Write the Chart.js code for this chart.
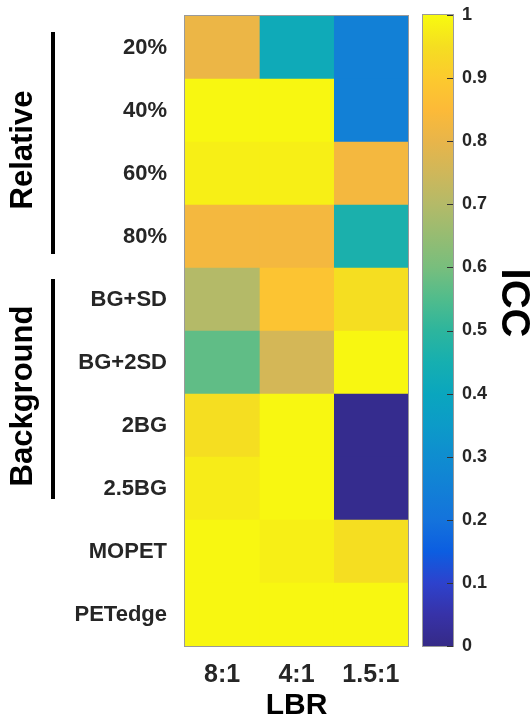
<!DOCTYPE html>
<html lang="en">
<head>
  <meta charset="UTF-8">
  <title>ICC heatmap</title>
  <style>
    body {
      margin: 0;
      padding: 0;
      background-color: #fff;
      font-family: "Liberation Sans", Arial, sans-serif;
    }

    #mapa {
      position: absolute;
      left: 0;
      top: 0;
    }

    #barra {
      position: absolute;
      left: 400px;
      top: 0;
    }
  </style>
  <script src="https://cdn.jsdelivr.net/npm/chart.js"></script>
</head>
<body>

  <canvas id="mapa" width="531" height="722"></canvas>
  <canvas id="barra" width="131" height="722"></canvas>

  <script>
    // rows (top to bottom) and columns of the heatmap
    const rowLabels = ['20%', '40%', '60%', '80%', 'BG+SD', 'BG+2SD', '2BG', '2.5BG', 'MOPET', 'PETedge'];
    const colLabels = ['8:1', '4:1', '1.5:1'];

    // ICC per column, same order as rowLabels
    const icc8to1   = [0.81, 0.995, 0.98, 0.83, 0.70, 0.57, 0.95, 0.975, 0.995, 0.995];
    const icc4to1   = [0.42, 0.995, 0.98, 0.83, 0.88, 0.76, 0.995, 0.995, 0.98, 0.995];
    const icc15to1  = [0.25, 0.25, 0.83, 0.46, 0.95, 0.995, 0.01, 0.01, 0.95, 0.995];

    // colour bar ticks
    const cbTickValues = [0, 0.1, 0.2, 0.3, 0.4, 0.5, 0.6, 0.7, 0.8, 0.9, 1];
    const cbTickLabels = ['0', '0.1', '0.2', '0.3', '0.4', '0.5', '0.6', '0.7', '0.8', '0.9', '1'];

    // row groups on the left
    const groupNames = ['Relative', 'Background'];
    const groupRows = [[0, 3], [4, 7]];

    // parula-like colormap
    const parula = [
      [0.00, [53, 42, 135]],
      [0.05, [55, 50, 168]],
      [0.10, [45, 66, 205]],
      [0.15, [12, 94, 225]],
      [0.20, [20, 115, 220]],
      [0.25, [18, 128, 214]],
      [0.30, [15, 141, 208]],
      [0.35, [12, 155, 200]],
      [0.40, [10, 166, 190]],
      [0.45, [22, 175, 176]],
      [0.50, [45, 181, 157]],
      [0.55, [80, 188, 140]],
      [0.60, [120, 190, 125]],
      [0.65, [150, 188, 114]],
      [0.70, [180, 186, 104]],
      [0.75, [207, 183, 90]],
      [0.80, [232, 181, 74]],
      [0.85, [252, 186, 56]],
      [0.90, [252, 202, 46]],
      [0.95, [245, 222, 33]],
      [1.00, [248, 250, 15]]
    ];

    function corParula(v) {
      v = Math.max(0, Math.min(1, v));
      for (let i = 1; i < parula.length; i++) {
        const [t1, c1] = parula[i];
        const [t0, c0] = parula[i - 1];
        if (v <= t1) {
          const f = (v - t0) / (t1 - t0);
          const c = c0.map((a, k) => Math.round(a + (c1[k] - a) * f));
          return 'rgb(' + c.join(',') + ')';
        }
      }
      return 'rgb(248,250,15)';
    }

    const corTexto = '#262626';
    const fonte = '"Liberation Sans", Arial, sans-serif';

    // no extra room for half labels at the ends of the axes
    function semFolga(s) {
      s.paddingTop = 0;
      s.paddingBottom = 0;
      s.paddingLeft = 0;
      s.paddingRight = 0;
    }

    // frame around the plot area
    const moldura = {
      id: 'moldura',
      afterDatasetsDraw(chart) {
        const a = chart.chartArea;
        const ctx = chart.ctx;
        ctx.save();
        ctx.strokeStyle = '#9a9a9a';
        ctx.lineWidth = 1;
        ctx.strokeRect(Math.round(a.left) - 0.5, Math.round(a.top) - 0.5,
          Math.round(a.right - a.left) + 1, Math.round(a.bottom - a.top) + 1);
        ctx.restore();
      }
    };

    // group brackets and rotated group names
    const insets = [[16, 14], [11, 21]];
    const grupos = {
      id: 'grupos',
      afterDraw(chart) {
        const y = chart.scales.y;
        const ctx = chart.ctx;
        ctx.save();
        groupRows.forEach((g, i) => {
          const y1 = y.getPixelForValue(g[0] - 0.5) + insets[i][0];
          const y2 = y.getPixelForValue(g[1] + 0.5) - insets[i][1];
          ctx.strokeStyle = '#000';
          ctx.lineWidth = 4;
          ctx.beginPath();
          ctx.moveTo(53, y1);
          ctx.lineTo(53, y2);
          ctx.stroke();

          ctx.save();
          ctx.translate(23, (y1 + y2) / 2 + 7);
          ctx.rotate(-Math.PI / 2);
          ctx.fillStyle = '#000';
          ctx.font = 'bold 31px ' + fonte;
          ctx.textAlign = 'center';
          ctx.textBaseline = 'middle';
          ctx.fillText(groupNames[i], 0, 0);
          ctx.restore();
        });
        ctx.restore();
      }
    };

    const colunas = [icc8to1, icc4to1, icc15to1];

    new Chart(document.getElementById('mapa'), {
      type: 'bar',
      data: {
        labels: rowLabels,
        datasets: colunas.map((vals, c) => ({
          label: colLabels[c],
          data: vals.map(() => 1),
          backgroundColor: vals.map(corParula),
          borderWidth: 0,
          barPercentage: 1,
          categoryPercentage: 1
        }))
      },
      options: {
        indexAxis: 'y',
        responsive: false,
        animation: false,
        devicePixelRatio: 1,
        layout: { padding: { left: 0, top: 16, right: 123, bottom: 0 } },
        plugins: { legend: { display: false }, tooltip: { enabled: false } },
        scales: {
          x: {
            stacked: true,
            min: 0,
            max: 3,
            grid: { display: false, drawTicks: false },
            border: { display: false },
            afterBuildTicks: s => { s.ticks = colLabels.map((_, i) => ({ value: i + 0.5 })); },
            afterFit: s => { s.height = 76; semFolga(s); },
            ticks: {
              autoSkip: false,
              maxRotation: 0,
              padding: 14,
              color: corTexto,
              font: { family: fonte, size: 25, weight: 'bold' },
              callback: (v, i) => colLabels[i]
            },
            title: {
              display: true,
              text: 'LBR',
              color: '#000',
              padding: { top: 0, bottom: -2 },
              font: { family: fonte, size: 30, weight: 'bold' }
            }
          },
          y: {
            stacked: true,
            grid: { display: false, drawTicks: false },
            border: { display: false },
            afterFit: s => { s.width = 185; semFolga(s); },
            ticks: {
              padding: 18,
              color: corTexto,
              font: { family: fonte, size: 22, weight: 'bold' }
            }
          }
        }
      },
      plugins: [moldura, grupos]
    });

    // colour bar
    const marcas = {
      id: 'marcas',
      afterDraw(chart) {
        const y = chart.scales.y;
        const a = chart.chartArea;
        const ctx = chart.ctx;
        ctx.save();
        ctx.strokeStyle = '#333';
        ctx.lineWidth = 1;
        cbTickValues.forEach(v => {
          const py = Math.round(y.getPixelForValue(v)) + 0.5;
          ctx.beginPath();
          ctx.moveTo(a.right - 6, py);
          ctx.lineTo(a.right, py);
          ctx.stroke();
        });
        ctx.save();
        ctx.translate(113, 303);
        ctx.rotate(Math.PI / 2);
        ctx.fillStyle = '#000';
        ctx.font = 'bold 40px ' + fonte;
        ctx.textAlign = 'center';
        ctx.textBaseline = 'middle';
        ctx.fillText('ICC', 0, 0);
        ctx.restore();
        ctx.restore();
      }
    };

    function gradiente(context) {
      const area = context.chart.chartArea;
      if (!area) return '#888';
      const g = context.chart.ctx.createLinearGradient(0, area.bottom, 0, area.top);
      parula.forEach(([t, c]) => g.addColorStop(t, 'rgb(' + c.join(',') + ')'));
      return g;
    }

    new Chart(document.getElementById('barra'), {
      type: 'bar',
      data: {
        labels: ['ICC'],
        datasets: [{
          data: [[0, 1]],
          backgroundColor: gradiente,
          borderWidth: 0,
          barPercentage: 1,
          categoryPercentage: 1
        }]
      },
      options: {
        responsive: false,
        animation: false,
        devicePixelRatio: 1,
        layout: { padding: { left: 23, top: 15, right: 0, bottom: 76 } },
        plugins: { legend: { display: false }, tooltip: { enabled: false } },
        scales: {
          x: { display: false },
          y: {
            position: 'right',
            min: 0,
            max: 1,
            grid: { display: false, drawTicks: false },
            border: { display: false },
            afterBuildTicks: s => { s.ticks = cbTickValues.map(v => ({ value: v })); },
            afterFit: s => { s.width = 78; semFolga(s); },
            ticks: {
              padding: 9,
              color: corTexto,
              font: { family: fonte, size: 18, weight: 'bold' },
              callback: (v, i) => cbTickLabels[i]
            }
          }
        }
      },
      plugins: [moldura, marcas]
    });
  </script>
</body>
</html>
